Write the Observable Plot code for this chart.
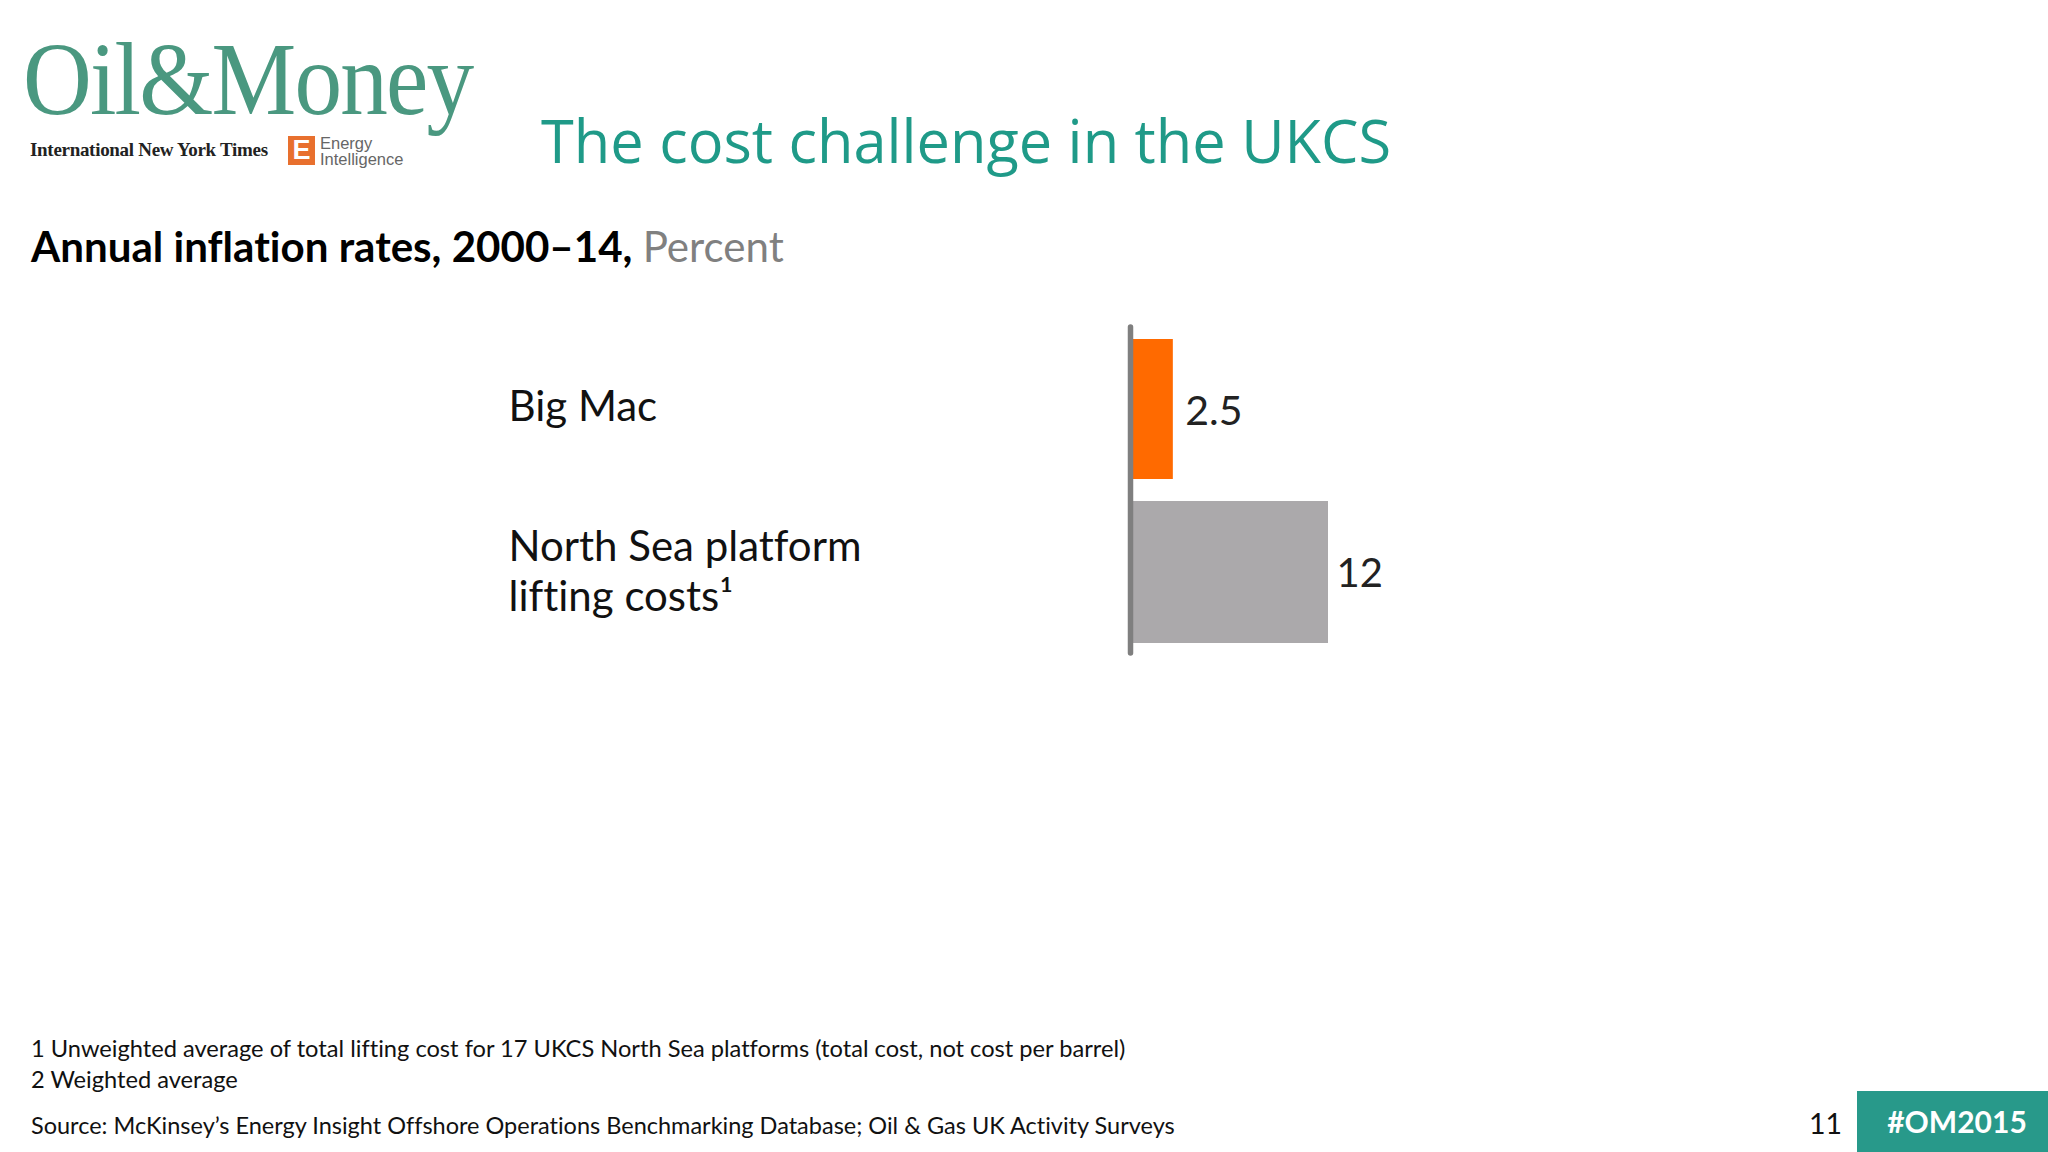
<!DOCTYPE html>
<html><head><meta charset="utf-8">
<script src="https://cdn.jsdelivr.net/npm/d3@7"></script>
<script src="https://cdn.jsdelivr.net/npm/@observablehq/plot@0.6"></script>
<style>
html,body{margin:0;padding:0;background:#fff;width:2048px;height:1152px;overflow:hidden;position:relative}
*{font-variant-ligatures:none !important}
.t{position:absolute;white-space:nowrap;line-height:1}
#chart{position:absolute;left:0;top:300px}
</style></head><body>
<div class="t" style="left:23px;top:37px;height:84px;font:104px/84px 'Liberation Serif';color:#4a9880;letter-spacing:-2px;transform:scaleX(.916);transform-origin:left top">Oil&amp;Money</div>
<div class="t" style="left:30px;top:140px;font:bold 19px/19px 'Liberation Serif';color:#222;letter-spacing:-0.3px">International New York Times</div>
<div class="t" style="left:288px;top:136px;width:27px;height:29px;background:#e8702e;color:#fff;font:bold 27px/29px 'Liberation Sans';text-align:center">E</div>
<div class="t" style="left:320px;top:135px;font:16.5px/16px 'Liberation Sans';color:#666">Energy<br>Intelligence</div>
<div class="t" id="title" style="left:541px;top:105px;font:59.5px/70px 'Open Sans';color:#1f9a88">The cost challenge in the UKCS</div>
<div class="t" style="left:31px;top:223px;font:bold 42.1px/46px 'Lato';color:#000">Annual inflation rates, 2000–14, <span style="font-weight:400;color:#808080">Percent</span></div>
<div id="chart"></div>
<div class="t" style="left:31px;top:1034px;font:23.65px/28px 'Lato';color:#111">1 Unweighted average of total lifting cost for 17 UKCS North Sea platforms (total cost, not cost per barrel)</div>
<div class="t" style="left:31px;top:1065px;font:23.65px/28px 'Lato';color:#111">2 Weighted average</div>
<div class="t" style="left:31px;top:1111px;font:23.5px/28px 'Lato';color:#111">Source: McKinsey’s Energy Insight Offshore Operations Benchmarking Database; Oil &amp; Gas UK Activity Surveys</div>
<div class="t" style="left:1809px;top:1107px;font:28.5px/32px 'Lato';color:#111">11</div>
<div class="t" style="left:1857px;top:1091px;width:191px;height:61px;background:#28998a;color:#fff;font:bold 30px/61px 'Lato';text-align:center;text-indent:9px">#OM2015</div>
<script>
const categories = ["Big Mac", "North Sea platform\nlifting costs¹"];
const values = [2.5, 12];
const valueLabels = ["2.5", "12"];
const barColors = ["#ff6a00", "#aba9ab"];
const rows = categories.map((c, i) => ({category: c, value: values[i], label: valueLabels[i], color: barColors[i]}));
const chart = Plot.plot({
  width: 2048, height: 400,
  marginTop: 27, marginBottom: 47, marginLeft: 0, marginRight: 0,
  style: {background: "transparent", fontFamily: "Lato"},
  x: {domain: [0, 12], range: [1132, 1328], axis: null},
  y: {domain: categories, range: [17, 364], padding: 0.13, axis: null},
  marks: [
    Plot.barX(rows.slice(0, 1), {y: "category", x: "value", fill: d => d.color, insetBottom: 1}),
    Plot.barX(rows.slice(1), {y: "category", x: "value", fill: d => d.color, insetBottom: -1}),
    Plot.ruleX([0], {stroke: "#7f7f7f", strokeWidth: 5.5, strokeLinecap: "round", dx: -2}),
    Plot.text(rows.slice(0, 1), {y: "category", x: "value", text: "label", textAnchor: "start", dx: 12, dy: 2, fontSize: 41, fill: "#222"}),
    Plot.text(rows.slice(1), {y: "category", x: "value", text: "label", textAnchor: "start", dx: 8, dy: 2, fontSize: 40, fill: "#222"}),
    Plot.text(rows.slice(0, 1), {y: "category", text: "category", frameAnchor: "left", textAnchor: "start", dx: 508, dy: -2, fontSize: 42, fill: "#111"}),
    Plot.text(rows.slice(1), {y: "category", text: "category", frameAnchor: "left", textAnchor: "start", dx: 508, dy: -2, fontSize: 42, lineHeight: 1.18, fill: "#111"})
  ]
});
document.getElementById("chart").appendChild(chart);
</script>
</body></html>
